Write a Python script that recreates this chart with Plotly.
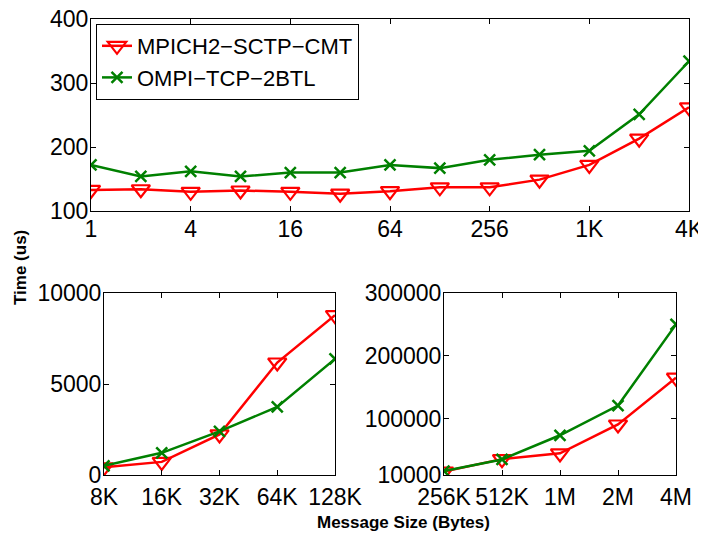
import math
import plotly.graph_objects as go

# ---- data ----
sizes_small = [1, 2, 4, 8, 16, 32, 64, 128, 256, 512, 1024, 2048, 4096]
mpich_small = [133, 134, 130, 132, 130, 127, 131, 137, 137, 149, 172, 213, 262]
ompi_small = [172, 154, 162, 154, 160, 160, 172, 167, 180, 188, 194, 251, 334]

sizes_mid = [8192, 16384, 32768, 65536, 131072]
mpich_mid = [420, 720, 2230, 6180, 8780]
ompi_mid = [500, 1220, 2400, 3740, 6380]

sizes_large = [262144, 524288, 1048576, 2097152, 4194304]
mpich_large = [15500, 35300, 44500, 90500, 165000]
ompi_large = [16300, 34800, 73300, 120700, 250000]

ticks_small = [1, 4, 16, 64, 256, 1024, 4096]
ticklabels_small = ["1", "4", "16", "64", "256", "1K", "4K"]
ticks_mid = [8192, 16384, 32768, 65536, 131072]
ticklabels_mid = ["8K", "16K", "32K", "64K", "128K"]
ticks_large = [262144, 524288, 1048576, 2097152, 4194304]
ticklabels_large = ["256K", "512K", "1M", "2M", "4M"]

yticks_top = [100, 200, 300, 400]
yticks_mid = [0, 5000, 10000]
yticks_large = [10000, 100000, 200000, 300000]

series_names = ["MPICH2\u2212SCTP\u2212CMT", "OMPI\u2212TCP\u22122BTL"]

RED = "#ff0000"
GREEN = "#008000"
FONT = "Liberation Sans, Arial, Helvetica, sans-serif"

fig = go.Figure()

def add_pair(x, r, g, xa, ya, show):
    fig.add_trace(go.Scatter(
        x=x, y=r, mode="lines+markers", name=series_names[0],
        xaxis=xa, yaxis=ya, showlegend=show, legendgroup="a",
        line=dict(color=RED, width=2.5),
        marker=dict(symbol="triangle-down-open", size=16, color=RED,
                    line=dict(width=2.2, color=RED))))
    fig.add_trace(go.Scatter(
        x=x, y=g, mode="lines+markers", name=series_names[1],
        xaxis=xa, yaxis=ya, showlegend=show, legendgroup="b",
        line=dict(color=GREEN, width=2.5),
        marker=dict(symbol="x-thin-open", size=11, color=GREEN,
                    line=dict(width=2.5, color=GREEN))))

add_pair(sizes_small, mpich_small, ompi_small, "x", "y", True)
add_pair(sizes_mid, mpich_mid, ompi_mid, "x2", "y2", False)
add_pair(sizes_large, mpich_large, ompi_large, "x3", "y3", False)

W, H = 706, 535
OFF = 8  # the page's body margin shifts the figure by this much on screen
def dx(a, b):
    return [(a - OFF) / W, (b - OFF) / W]
def dy(top, bot):
    return [1 - (bot - OFF) / H, 1 - (top - OFF) / H]
def px(a):
    return (a - OFF) / W
def py(a):
    return 1 - (a - OFF) / H

common = dict(showline=True, linecolor="black", linewidth=1, mirror="ticks",
              ticks="inside", ticklen=5, tickcolor="black", showgrid=False,
              zeroline=False, automargin=False, ticklabeloverflow="allow",
              tickfont=dict(family=FONT, size=23, color="black"))
xtop = dict(common, ticklabelstandoff=-3)
xbot = dict(common, ticklabelstandoff=1)
ycommon = dict(common, ticklabelstandoff=-3)

fig.update_layout(
    width=W, height=H,
    margin=dict(l=0, r=0, t=0, b=0),
    paper_bgcolor="white", plot_bgcolor="white",
    xaxis=dict(domain=dx(91, 689), anchor="y", type="log",
               range=[math.log10(1), math.log10(4096)],
               tickvals=ticks_small, ticktext=ticklabels_small, **xtop),
    yaxis=dict(domain=dy(19, 211), anchor="x", range=[100, 400],
               tickvals=yticks_top, ticktext=[str(v) for v in yticks_top], **ycommon),
    xaxis2=dict(domain=dx(104, 335), anchor="y2", type="log",
                range=[math.log10(8192), math.log10(131072)],
                tickvals=ticks_mid, ticktext=ticklabels_mid, **xbot),
    yaxis2=dict(domain=dy(293, 475), anchor="x2", range=[0, 10000],
                tickvals=yticks_mid, ticktext=[str(v) for v in yticks_mid], **ycommon),
    xaxis3=dict(domain=dx(444, 676), anchor="y3", type="log",
                range=[math.log10(262144), math.log10(4194304)],
                tickvals=ticks_large, ticktext=ticklabels_large, **xbot),
    yaxis3=dict(domain=dy(293, 475), anchor="x3", range=[10000, 300000],
                tickvals=yticks_large, ticktext=[str(v) for v in yticks_large], **ycommon),
    legend=dict(x=px(96), y=py(24), xanchor="left", yanchor="top",
                bgcolor="white", bordercolor="black", borderwidth=1,
                font=dict(family=FONT, size=22, color="black"),
                tracegroupgap=0, itemwidth=30),
    annotations=[
        dict(text="<b>Time (us)</b>", x=px(20), y=py(268), xref="paper",
             yref="paper", showarrow=False, textangle=-90,
             xanchor="center", yanchor="middle",
             font=dict(family=FONT, size=17, color="black")),
        dict(text="<b>Message Size (Bytes)</b>", x=px(403), y=py(522),
             xref="paper", yref="paper", showarrow=False,
             xanchor="center", yanchor="middle",
             font=dict(family=FONT, size=17, color="black")),
    ],
)

fig.write_html("out.html")
